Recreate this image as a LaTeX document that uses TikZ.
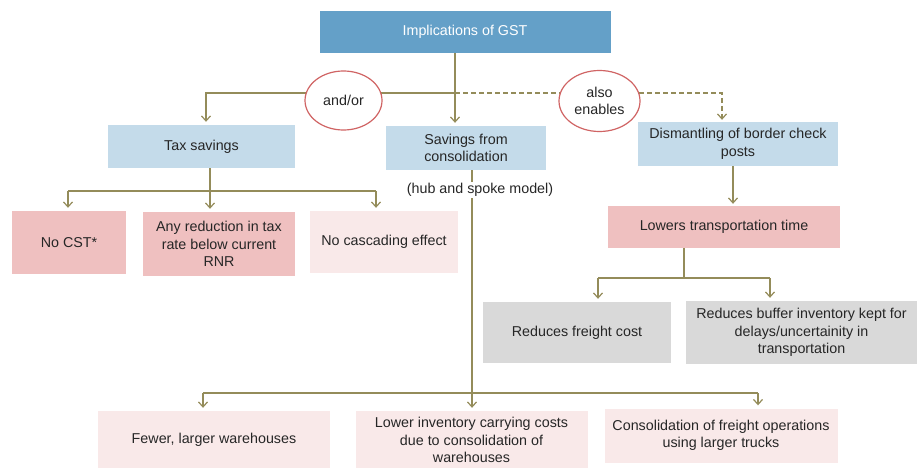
\documentclass[tikz,border=0pt]{standalone}
\usepackage{fontspec}
\setmainfont{Liberation Sans}
\usetikzlibrary{shapes.geometric,arrows.meta,backgrounds}
\definecolor{topblue}{RGB}{100,160,200}
\definecolor{lblue}{RGB}{196,219,234}
\definecolor{pinkc}{RGB}{239,192,192}
\definecolor{lpink}{RGB}{249,233,233}
\definecolor{grayc}{RGB}{217,217,217}
\definecolor{linec}{RGB}{148,140,90}
\definecolor{ellc}{RGB}{208,100,100}
\definecolor{txt}{RGB}{38,38,38}
\begin{document}
\begin{tikzpicture}[x=1pt,y=-1pt,
  every node/.style={font=\fontsize{14.3}{17.5}\selectfont, text=txt, align=center, inner sep=2pt},
  boxn/.style={rectangle, minimum width=#1},
  conn/.style={draw=linec, line width=1.4pt},
  arr/.style={conn, -{Straight Barb[length=5pt,width=9pt,line width=1.2pt]}},
  ell/.style={ellipse, draw=ellc, line width=1.2pt, fill=white, inner sep=0pt}]
\useasboundingbox (0,0) rectangle (920,468);
% nodes
\node[boxn=291, minimum height=42, fill=topblue, text=white] (top) at (465,32) {Implications of GST};
\node[ell, minimum width=77, minimum height=59] (andor) at (343.5,100.5) {and/or};
\node[ell, minimum width=81, minimum height=61] (also) at (599.5,101) {also\\enables};
\node[boxn=187, minimum height=43, fill=lblue] (tax) at (201.5,146.5) {Tax savings};
\node[boxn=160, minimum height=44, fill=lblue] (sav) at (466,148) {Savings from\\consolidation};
\node[boxn=200, minimum height=44, fill=lblue] (dis) at (738,144) {Dismantling of border check\\posts};
\node[fill=white, inner sep=1pt] (hub) at (480,190) {(hub and spoke model)};
\node[boxn=114, minimum height=63, fill=pinkc] (nocst) at (69,242.5) {No CST*};
\node[boxn=152, minimum height=64, fill=pinkc] (anyred) at (219,244) {Any reduction in tax\\rate below current\\RNR};
\node[boxn=148, minimum height=62, fill=lpink] (nocas) at (384,242) {No cascading effect};
\node[boxn=232, minimum height=42, fill=pinkc] (lowers) at (724,227) {Lowers transportation time};
\node[boxn=188, minimum height=61, fill=grayc] (freight) at (577,332.5) {Reduces freight cost};
\node[boxn=231, minimum height=63, fill=grayc] (buffer) at (801.5,332.5) {Reduces buffer inventory kept for\\delays/uncertainity in\\transportation};
\node[boxn=232, minimum height=58, fill=lpink] (fewer) at (214,440) {Fewer, larger warehouses};
\node[boxn=232, minimum height=58, fill=lpink] (lower) at (471.5,440) {Lower inventory carrying costs\\due to consolidation of\\warehouses};
\node[boxn=233, minimum height=54, fill=lpink] (consol) at (721,435.5) {Consolidation of freight operations\\using larger trucks};
% junction coordinates
\coordinate (j1) at (455,93);
\coordinate (j2) at (206,93);
\coordinate (j3) at (722,93);
\coordinate (t0) at (210,191);
\coordinate (t1) at (68,191);
\coordinate (t2) at (376,191);
\coordinate (s0) at (472,393);
\coordinate (s1) at (203,393);
\coordinate (s2) at (758,393);
\coordinate (d0) at (733,166);
\coordinate (l0) at (684,278);
\coordinate (l1) at (598,278);
\coordinate (l2) at (770,278);
\begin{scope}[on background layer]
\fill[white] (0,0) rectangle (920,468);
\draw[arr, shorten >=3pt] (top.south -| j1) -- (j1 |- sav.north);
\draw[arr, shorten >=3pt] (j1) -- (j2) -- (j2 |- tax.north);
\draw[arr, dashed, dash pattern=on 5pt off 3pt, shorten >=2pt] (j1) -- (j3) -- (j3 |- dis.north);
\draw[conn] (tax.south -| t0) -- (t0);
\draw[conn] (t1) -- (t2);
\draw[arr, shorten >=3pt] (t1) -- (t1 |- nocst.north);
\draw[arr, shorten >=3pt] (t0) -- (t0 |- anyred.north);
\draw[arr, shorten >=3pt] (t2) -- (t2 |- nocas.north);
\draw[conn] (sav.south -| s0) -- (s0);
\draw[conn] (s1) -- (s2);
\draw[arr, shorten >=3pt] (s1) -- (s1 |- fewer.north);
\draw[arr, shorten >=3pt] (s0) -- (s0 |- lower.north);
\draw[arr, shorten >=3pt] (s2) -- (s2 |- consol.north);
\draw[arr, shorten >=2pt] (dis.south -| d0) -- (d0 |- lowers.north);
\draw[conn] (lowers.south -| l0) -- (l0);
\draw[conn] (l1) -- (l2);
\draw[arr, shorten >=3pt] (l1) -- (l1 |- freight.north);
\draw[arr, shorten >=3pt] (l2) -- (l2 |- buffer.north);
\end{scope}
\end{tikzpicture}
\end{document}
